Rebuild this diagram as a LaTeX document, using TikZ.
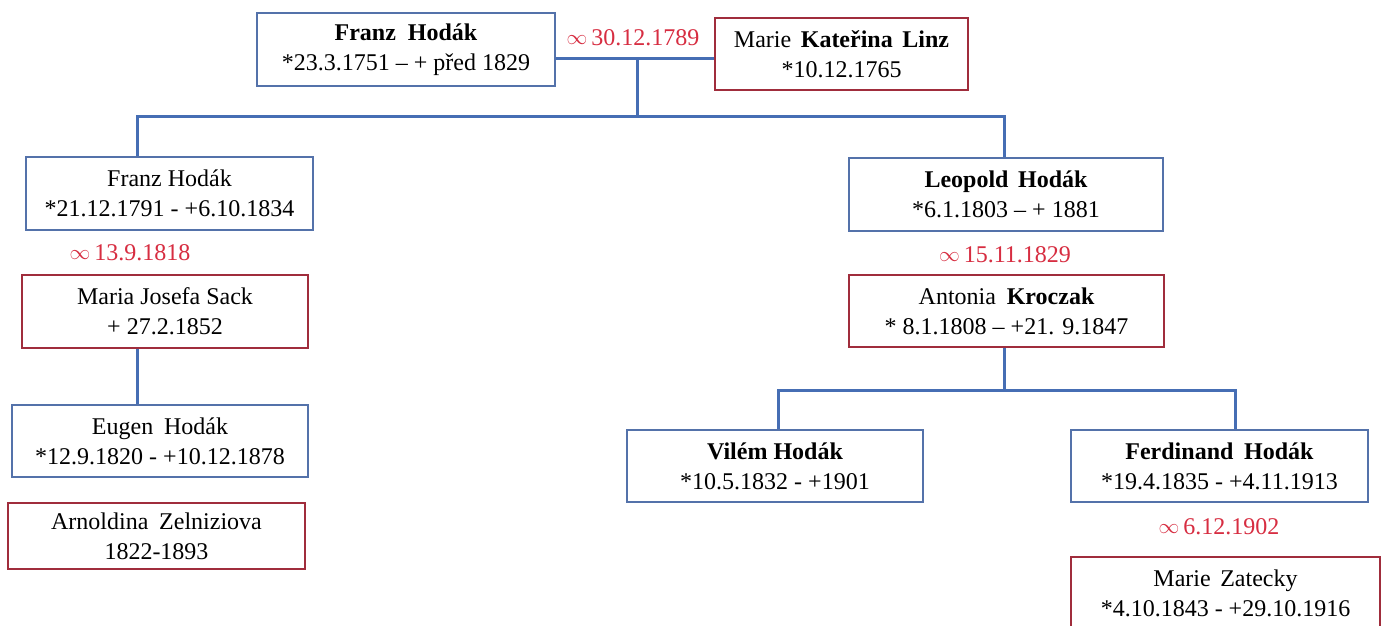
\documentclass[tikz,border=0pt]{standalone}
\usepackage{fontspec}
\setmainfont{Liberation Serif}
\definecolor{boxblue}{RGB}{84,114,170}
\definecolor{boxred}{RGB}{160,45,60}
\definecolor{linblue}{RGB}{70,110,180}
\definecolor{datered}{RGB}{215,45,65}
\newcommand{\inftysym}{\raisebox{1pt}{\fontsize{20}{22}\selectfont$\infty$}}
\begin{document}
\begin{tikzpicture}[x=1pt,y=-1pt,
  person/.style={draw=boxblue,line width=1.3pt,fill=white,align=center,inner sep=0pt,
    font=\fontsize{24}{30}\selectfont},
  wife/.style={person,draw=boxred},
  wed/.style={text=datered,font=\fontsize{24}{30}\selectfont,inner sep=0pt},
  conn/.style={draw=linblue,line width=3pt}]
\useasboundingbox[fill=white] (0,0) rectangle (1383,625);
% persons
\node[person,minimum width=298pt,minimum height=73pt] (F0) at (406,49.5)
  {\textbf{Franz\hspace{.5em}Hodák}\\*23.3.1751 – + před 1829};
\node[wife,minimum width=253pt,minimum height=72pt] (M0) at (841.5,54)
  {Marie\hspace{.4em}\textbf{Kateřina\hspace{.4em}Linz}\\*10.12.1765};
\node[person,minimum width=287pt,minimum height=73pt] (F1) at (169.5,193.5)
  {Franz Hodák\\*21.12.1791 - +6.10.1834};
\node[wife,minimum width=286pt,minimum height=73pt] (S1) at (165,311.5)
  {Maria Josefa Sack\\+ 27.2.1852};
\node[person,minimum width=296pt,minimum height=72pt] (E) at (160,441)
  {Eugen\hspace{.45em}Hodák\\*12.9.1820 - +10.12.1878};
\node[wife,minimum width=297pt,minimum height=66pt] (A) at (156.5,536)
  {Arnoldina\hspace{.45em}Zelniziova\\1822-1893};
\node[person,minimum width=314pt,minimum height=73pt] (L) at (1006,194.5)
  {\textbf{Leopold\hspace{.4em}Hodák}\\*6.1.1803 – + 1881};
\node[wife,minimum width=315pt,minimum height=72pt] (K) at (1006.5,311)
  {Antonia\hspace{.45em}\textbf{Kroczak}\\* 8.1.1808 – +21. 9.1847};
\node[person,minimum width=296pt,minimum height=72pt] (V) at (775,466)
  {\textbf{Vilém Hodák}\\*10.5.1832 - +1901};
\node[person,minimum width=297pt,minimum height=72pt] (Fe) at (1219.5,466)
  {\textbf{Ferdinand\hspace{.45em}Hodák}\\*19.4.1835 - +4.11.1913};
\node[wife,minimum width=309pt,minimum height=73pt] (Z) at (1225.5,593.5)
  {Marie\hspace{.4em}Zatecky\\*4.10.1843 - +29.10.1916};
% marriage labels
\node[wed] (m0) at (633,38) {\inftysym\,30.12.1789};
\node[wed] (m1) at (130,253) {\inftysym\,13.9.1818};
\node[wed] (m2) at (1005,255) {\inftysym\,15.11.1829};
\node[wed] (m3) at (1219,527) {\inftysym\,6.12.1902};
% junction coordinates
\coordinate (j0) at (637,58);
\coordinate (b0) at (637,116);
\coordinate (c1) at (137,116);
\coordinate (c2) at (1004,116);
\coordinate (k0) at (1004,390);
\coordinate (k1) at (778,390);
\coordinate (k2) at (1235,390);
% connectors
\draw[conn] (F0.east |- j0) -- (M0.west |- j0);
\draw[conn] (j0) -- (b0);
\draw[conn] (F1.north -| c1) -- (c1) -- (c2) -- (L.north -| c2);
\draw[conn] (S1.south -| c1) -- (E.north -| c1);
\draw[conn] (K.south -| k0) -- (k0);
\draw[conn] (V.north -| k1) -- (k1) -- (k2) -- (Fe.north -| k2);
\end{tikzpicture}
\end{document}
